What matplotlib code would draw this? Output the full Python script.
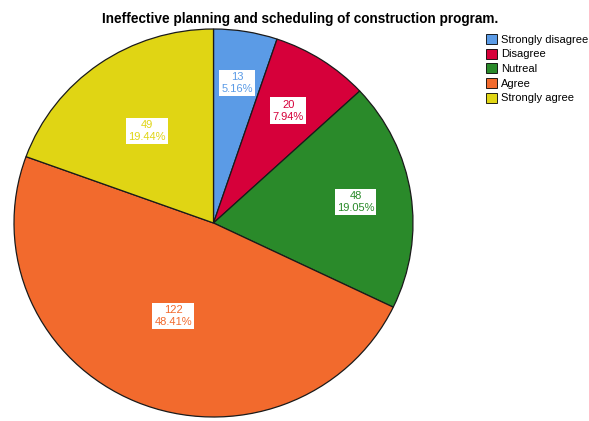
import numpy as np
import matplotlib.pyplot as plt

# responses for the survey item
categories = ['Strongly disagree', 'Disagree', 'Nutreal', 'Agree', 'Strongly agree']
counts = [13, 20, 48, 122, 49]
percents = ['5.16%', '7.94%', '19.05%', '48.41%', '19.44%']
colors = ['#5b9be6', '#d6003a', '#2a8a2a', '#f26a2d', '#e0d514']

plt.rcParams['font.family'] = ['Liberation Sans', 'DejaVu Sans']

fig = plt.figure(figsize=(5.89, 4.21), dpi=100)
ax = fig.add_axes([14 / 589, 4 / 421, 399 / 589, 388 / 421])

wedges, _ = ax.pie(counts, colors=colors, startangle=90, counterclock=False,
                   radius=1, wedgeprops={'linewidth': 0.9, 'edgecolor': '#1a1a1a'})
ax.set_aspect('auto')
ax.set_xlim(-1, 1)
ax.set_ylim(-1, 1)

# label distance from centre, per slice
label_r = [0.73, 0.69, 0.72, 0.52, 0.58]
for w, n, p, c, r in zip(wedges, counts, percents, colors, label_r):
    ang = np.deg2rad((w.theta1 + w.theta2) / 2)
    ax.text(r * np.cos(ang), r * np.sin(ang), f'{n}\n{p}', color=c,
            ha='center', va='center', fontsize=8, linespacing=1.25,
            bbox=dict(facecolor='white', edgecolor='none', pad=1.5))

fig.text(0.51, 0.955, 'Ineffective planning and scheduling of construction program.',
         ha='center', va='center', fontsize=9.8, fontweight='bold')

leg = fig.legend(wedges, categories, loc='upper left', bbox_to_anchor=(0.818, 0.93),
                 frameon=False, fontsize=8, handlelength=1.0, handleheight=1.0,
                 handletextpad=0.3, labelspacing=0.35, borderaxespad=0)
for h in leg.legend_handles:
    h.set_edgecolor('black')
    h.set_linewidth(0.6)

fig.savefig('out.png', dpi=100)
